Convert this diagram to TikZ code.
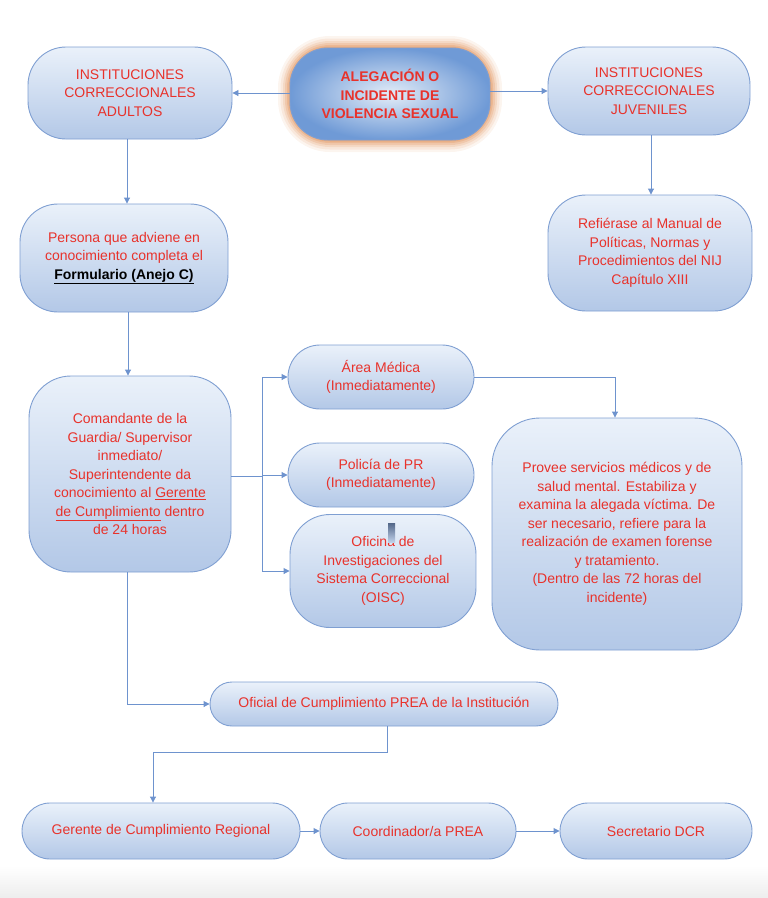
\documentclass[tikz,border=0pt]{standalone}
\usepackage{fontspec}
\setmainfont{Liberation Sans}
\usetikzlibrary{arrows.meta}
\definecolor{txtred}{HTML}{E8322B}
\definecolor{bordcol}{HTML}{7F9FD2}
\definecolor{ftop}{HTML}{EAF1FA}
\definecolor{fbot}{HTML}{B3C8E7}
\definecolor{conncol}{HTML}{6E93CE}
\definecolor{glowcol}{HTML}{E39A66}
\definecolor{aleout}{HTML}{6F9AD6}
\definecolor{alein}{HTML}{E4EDF8}
\begin{document}
\begin{tikzpicture}[x=1pt,y=-1pt,
  blbox/.style={draw=bordcol, line width=0.9pt, top color=ftop, bottom color=fbot,
    rounded corners=38pt, inner sep=0pt, align=center, text=txtred,
    font=\fontsize{14}{18.5}\selectfont},
  connline/.style={draw=conncol, line width=0.9pt},
  arr/.style={connline, -{Triangle[length=6pt,width=6pt]}}]
\useasboundingbox (0,0) rectangle (768,898);
\fill[top color=white, bottom color=black!7, draw=none] (0,866) rectangle (768,898);

% glow behind the central node
\foreach \w/\o in {24/0.10,19/0.14,14/0.2,10/0.26,6/0.34,3/0.45}{
  \draw[glowcol, line width=\w pt, opacity=\o, rounded corners=40pt] (290,48) rectangle (490,140);
}

\node[blbox, inner color=alein, outer color=aleout, minimum width=200pt, minimum height=92pt,
  font=\fontsize{14}{18.5}\selectfont\bfseries] (ale) at (390,94)
  {ALEGACIÓN O\\INCIDENTE DE\\VIOLENCIA SEXUAL};
\node[blbox, minimum width=204pt, minimum height=92pt] (adu) at (130,93)
  {INSTITUCIONES\\CORRECCIONALES\\ADULTOS};
\node[blbox, minimum width=202pt, minimum height=88pt] (juv) at (649,91)
  {INSTITUCIONES\\CORRECCIONALES\\JUVENILES};
\node[blbox, minimum width=208pt, minimum height=108pt] (per) at (124,258)
  {Persona que adviene en\\conocimiento completa el\\\textcolor{black}{\bfseries\underline{Formulario (Anejo C)}}};
\node[blbox, minimum width=204pt, minimum height=116pt] (ref) at (650,253)
  {Refiérase al Manual de\\Políticas, Normas y\\Procedimientos del NIJ\\Capítulo XIII};
\node[blbox, rounded corners=42pt, minimum width=202pt, minimum height=196pt] (com) at (130,474)
  {Comandante de la\\Guardia/ Supervisor\\inmediato/\\Superintendente da\\conocimiento al \underline{Gerente}\\\underline{de Cumplimiento} dentro\\de 24 horas};
\node[blbox, rounded corners=32pt, minimum width=186pt, minimum height=64pt] (med) at (381,377)
  {Área Médica\\(Inmediatamente)};
\node[blbox, rounded corners=32pt, minimum width=186pt, minimum height=64pt] (pol) at (381,475)
  {Policía de PR\\(Inmediatamente)};
\node[blbox, rounded corners=40pt, minimum width=186pt, minimum height=113pt] (oisc) at (383,571)
  {Oficina de\\Investigaciones del\\Sistema Correccional\\(OISC)};
\node[blbox, rounded corners=48pt, minimum width=250pt, minimum height=232pt] (prov) at (617,534)
  {Provee servicios médicos y de\\salud mental. Estabiliza y\\examina la alegada víctima. De\\ser necesario, refiere para la\\realización de examen forense\\y tratamiento.\\(Dentro de las 72 horas del\\incidente)};
\node[blbox, rounded corners=22pt, minimum width=348pt, minimum height=44pt] (ofi) at (384,704)
  {Oficial de Cumplimiento PREA de la Institución};
\node[blbox, rounded corners=28pt, minimum width=278pt, minimum height=56pt] (ger) at (161,831)
  {Gerente de Cumplimiento Regional};
\node[blbox, rounded corners=28pt, minimum width=196pt, minimum height=56pt] (coo) at (418,831)
  {Coordinador/a PREA};
\node[blbox, rounded corners=28pt, minimum width=192pt, minimum height=56pt] (sec) at (656,831)
  {Secretario DCR};

% small artifact bar inside OISC
\fill[top color=black!35!bordcol, bottom color=bordcol!50] (388,523) rectangle (395,542);

% connectors
\draw[arr] (ale.west |- adu.east) -- (adu.east);
\draw[arr] (ale.east |- juv.west) -- (juv.west);
\draw[arr] ([xshift=-3pt]adu.south) -- ([xshift=-3pt]adu.south |- per.north);
\draw[arr] ([xshift=2pt]juv.south) -- ([xshift=2pt]juv.south |- ref.north);
\draw[arr] ([xshift=4pt]per.south) -- ([xshift=4pt]per.south |- com.north);
\coordinate (j) at (262,476);
\draw[connline] (com.east |- j) -- (j);
\draw[arr] (j) |- (med.west);
\draw[arr] (j) |- (pol.west);
\draw[arr] (j) |- (oisc.west);
\draw[arr] (med.east) -| ([xshift=-2pt]prov.north);
\draw[arr] ([xshift=-3pt]com.south) |- (ofi.west);
\coordinate (k) at (153,752);
\draw[arr] ([xshift=3pt]ofi.south) |- (k) -- (k |- ger.north);
\draw[arr] (ger.east) -- (coo.west);
\draw[arr] (coo.east) -- (sec.west);
\end{tikzpicture}
\end{document}
